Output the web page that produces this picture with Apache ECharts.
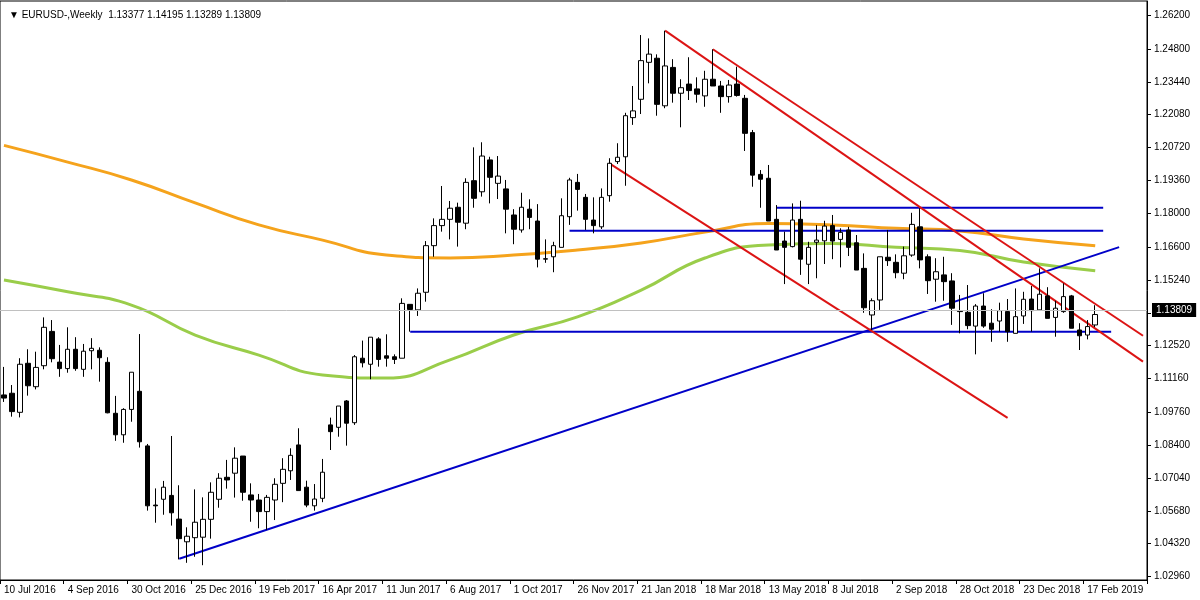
<!DOCTYPE html>
<html><head><meta charset="utf-8">
<script src="https://cdn.jsdelivr.net/npm/echarts@6/dist/echarts.min.js"></script>
<style>html,body{margin:0;padding:0;background:#fff}#c{width:1200px;height:600px}</style>
</head><body><div id="c"></div>
<script>
const opens=[1.1048,1.1055,1.0976,1.1179,1.1082,1.1169,1.1311,1.1184,1.1157,1.1237,1.1154,1.1231,1.1233,1.1183,1.0972,1.0883,1.0988,1.1063,1.0837,1.0592,1.0616,1.0632,1.0534,1.0440,1.0457,1.0459,1.0533,1.0616,1.0707,1.0724,1.0795,1.0634,1.0613,1.0565,1.0613,1.0682,1.0734,1.0841,1.0666,1.0589,1.0620,1.0924,1.0914,1.1023,1.0933,1.1200,1.1175,1.1280,1.1210,1.1206,1.1200,1.1423,1.1400,1.1473,1.1666,1.1749,1.1775,1.1825,1.1759,1.1935,1.1889,1.2021,1.1924,1.1901,1.1793,1.1731,1.1817,1.1768,1.1610,1.1620,1.1659,1.1786,1.1928,1.1866,1.1772,1.1744,1.1873,1.2014,1.2034,1.2196,1.2272,1.2425,1.2442,1.2245,1.2404,1.2297,1.2335,1.2315,1.2286,1.2355,1.2327,1.2283,1.2335,1.2276,1.2134,1.1961,1.1945,1.1775,1.1685,1.1662,1.1775,1.1589,1.1680,1.1686,1.1749,1.1692,1.1731,1.1678,1.1572,1.1379,1.1441,1.1618,1.1597,1.1552,1.1627,1.1744,1.1620,1.1527,1.1545,1.1520,1.1393,1.1390,1.1333,1.1416,1.1345,1.1354,1.1393,1.1303,1.1375,1.1445,1.1400,1.1458,1.1369,1.1393,1.1458,1.1317,1.1296,1.13377];
const closes=[1.1035,1.0979,1.1175,1.1086,1.1162,1.1328,1.1198,1.1157,1.1237,1.1157,1.1229,1.1241,1.1202,1.0974,1.0883,1.0988,1.1142,1.0854,1.0589,1.0589,1.0666,1.0560,1.0453,1.0463,1.0521,1.0533,1.0645,1.0703,1.0696,1.0786,1.0645,1.0613,1.0565,1.0624,1.0678,1.0740,1.0798,1.0652,1.0592,1.0617,1.0728,1.0896,1.1002,1.0931,1.1206,1.1181,1.1287,1.1195,1.1200,1.1195,1.1427,1.1402,1.1469,1.1666,1.1749,1.1775,1.1821,1.1763,1.1928,1.1862,1.2037,1.1949,1.1954,1.1817,1.1734,1.1825,1.1783,1.1610,1.1612,1.1666,1.1790,1.1938,1.1899,1.1775,1.1749,1.1866,1.2007,1.2032,1.2204,1.2224,1.2432,1.2459,1.2251,1.2410,1.2297,1.2320,1.2308,1.2293,1.2355,1.2327,1.2283,1.2331,1.2288,1.2131,1.1958,1.1941,1.1768,1.1648,1.1659,1.1772,1.1610,1.1659,1.1689,1.1747,1.1685,1.1721,1.1659,1.1565,1.1409,1.1438,1.1620,1.1604,1.1554,1.1624,1.1754,1.1607,1.1521,1.1558,1.1517,1.1407,1.1396,1.1335,1.1416,1.1333,1.1320,1.1397,1.1310,1.1372,1.1444,1.1397,1.1465,1.1365,1.1407,1.1455,1.1324,1.1293,1.1331,1.13809];
const highs=[1.1164,1.1089,1.1200,1.1237,1.1227,1.1369,1.1358,1.1255,1.1328,1.1287,1.1259,1.1283,1.1245,1.1204,1.1044,1.0993,1.1142,1.1300,1.0845,1.0661,1.0692,1.0878,1.0674,1.0500,1.0657,1.0624,1.0686,1.0724,1.0779,1.0831,1.0795,1.0682,1.0638,1.0634,1.0703,1.0786,1.0827,1.0910,1.0693,1.0679,1.0783,1.0954,1.1002,1.1027,1.1213,1.1273,1.1287,1.1287,1.1299,1.1216,1.1448,1.1423,1.1489,1.1685,1.1779,1.1913,1.1851,1.1844,1.1945,1.2073,1.2094,1.2034,1.2037,1.1938,1.1817,1.1885,1.1858,1.1838,1.1692,1.1682,1.1862,1.1947,1.1963,1.1880,1.1866,1.1903,1.2028,1.2090,1.2216,1.2327,1.2538,1.2524,1.2458,1.2556,1.2438,1.2355,1.2446,1.2363,1.2390,1.2479,1.2348,1.2352,1.2407,1.2290,1.2145,1.1979,1.2000,1.1834,1.1724,1.1841,1.1852,1.1682,1.1751,1.1769,1.1793,1.1738,1.1744,1.1710,1.1634,1.1448,1.1620,1.1731,1.1630,1.1662,1.1802,1.1821,1.1630,1.1614,1.1620,1.1552,1.1462,1.1503,1.1424,1.1469,1.1403,1.1430,1.1445,1.1489,1.1475,1.1499,1.1572,1.1494,1.1438,1.1510,1.1462,1.1345,1.1358,1.14195];
const lows=[1.1019,1.0958,1.0955,1.1045,1.1071,1.1154,1.1183,1.1123,1.1140,1.1148,1.1123,1.1154,1.1103,1.0972,1.0858,1.0850,1.0937,1.0830,1.0569,1.0519,1.0552,1.0507,1.0367,1.0353,1.0378,1.0343,1.0453,1.0581,1.0660,1.0623,1.0610,1.0523,1.0496,1.0489,1.0530,1.0604,1.0696,1.0652,1.0583,1.0569,1.0604,1.0820,1.0875,1.0838,1.0924,1.1162,1.1113,1.1165,1.1165,1.1176,1.1200,1.1310,1.1375,1.1434,1.1620,1.1724,1.1692,1.1662,1.1734,1.1823,1.1869,1.1841,1.1859,1.1717,1.1672,1.1720,1.1734,1.1576,1.1595,1.1556,1.1659,1.1752,1.1811,1.1731,1.1717,1.1735,1.1848,1.2004,1.1914,1.2166,1.2211,1.2338,1.2204,1.2235,1.2258,1.2156,1.2269,1.2258,1.2241,1.2327,1.2216,1.2258,1.2283,1.2058,1.1910,1.1823,1.1768,1.1648,1.1507,1.1659,1.1545,1.1507,1.1531,1.1590,1.1610,1.1576,1.1623,1.1565,1.1388,1.1317,1.1400,1.1582,1.1531,1.1527,1.1620,1.1572,1.1466,1.1434,1.1438,1.1338,1.1303,1.1320,1.1216,1.1326,1.1268,1.1310,1.1268,1.1303,1.1342,1.1310,1.1397,1.1365,1.1289,1.1388,1.1324,1.1234,1.1278,1.13289];
// moving averages read at every 8th week (week index, value)
const maIdx=[0,8,16,24,32,40,48,56,64,72,80,88,96,104,112,120,128,137];
const maOrange=[1.2081,1.2012,1.1938,1.1843,1.1752,1.1689,1.1627,1.1615,1.1627,1.1648,1.1677,1.1722,1.1758,1.1752,1.1738,1.1727,1.1694,1.1666];
const maGreen=[1.1524,1.1475,1.1420,1.1296,1.1213,1.1131,1.1118,1.1193,1.1296,1.1371,1.1482,1.1615,1.1669,1.1675,1.1659,1.1646,1.1598,1.1562];
const tickLabels=['10 Jul 2016','4 Sep 2016','30 Oct 2016','25 Dec 2016','19 Feb 2017','16 Apr 2017','11 Jun 2017','6 Aug 2017','1 Oct 2017','26 Nov 2017','21 Jan 2018','18 Mar 2018','13 May 2018','8 Jul 2018','2 Sep 2018','28 Oct 2018','23 Dec 2018','17 Feb 2019'];
const priceTicks=[1.02960,1.04320,1.05680,1.07040,1.08400,1.09760,1.11160,1.12520,1.13880,1.15240,1.16600,1.18000,1.19360,1.20720,1.22080,1.23440,1.24800,1.26200];
const lastPrice=1.13809;
// trend lines: [[startWeek, startPrice],[endWeek, endPrice]]
const blueLines=[[[22,1.0370],[140,1.1660]],[[97,1.1823],[138,1.1823]],[[71,1.1728],[138,1.1728]],[[51,1.1310],[139,1.1310]]];
const redLines=[[[83,1.2556],[143,1.1186]],[[89,1.2479],[143,1.1293]],[[76,1.2007],[126,1.0953]]];
const totalWeeks=144;

const FONT='Liberation Sans';
const cats=[];
for(let i=0;i<totalWeeks;i++){cats.push('w'+i);}
const candles=opens.map((o,i)=>[o,closes[i],lows[i],highs[i]]);
const lineSeries=(arr,color,w)=>arr.map(l=>({type:'line',data:l,symbol:'none',lineStyle:{color:color,width:w},silent:true,animation:false,z:3}));
const chart=echarts.init(document.getElementById('c'));
chart.setOption({
  animation:false,
  title:{text:'▼ EURUSD-,Weekly  1.13377 1.14195 1.13289 1.13809',left:4,top:5,textStyle:{fontSize:10,fontWeight:'normal',color:'#000',fontFamily:FONT}},
  grid:{left:0,right:53,top:1,bottom:20,show:true,borderColor:'#000',borderWidth:1,backgroundColor:'#fff'},
  xAxis:{type:'category',data:cats,boundaryGap:true,
    axisLine:{lineStyle:{color:'#000'}},
    axisTick:{show:true,interval:(i)=>i%8===0,length:4,lineStyle:{color:'#000'}},
    axisLabel:{interval:(i)=>i%8===0,formatter:(v,i)=>tickLabels[i/8]||'',align:'left',fontSize:10,color:'#000',fontFamily:FONT,margin:5},
    splitLine:{show:false}},
  yAxis:{type:'value',position:'right',min:1.02818,max:1.26789,scale:true,
    axisLine:{show:true,lineStyle:{color:'#000'}},
    axisTick:{show:true,customValues:priceTicks,length:4,lineStyle:{color:'#000'}},
    axisLabel:{customValues:priceTicks,formatter:v=>v.toFixed(5),fontSize:10,color:'#000',fontFamily:FONT,margin:7},
    splitLine:{show:false}},
  series:[
    {type:'line',data:maIdx.map((x,i)=>[x,maOrange[i]]),smooth:true,symbol:'none',lineStyle:{color:'#f5a31c',width:3},z:2},
    {type:'line',data:maIdx.map((x,i)=>[x,maGreen[i]]),smooth:true,symbol:'none',lineStyle:{color:'#9acd4a',width:3},z:2},
    {type:'candlestick',data:candles,barWidth:5,z:4,
      itemStyle:{color:'#fff',color0:'#000',borderColor:'#000',borderColor0:'#000',borderWidth:1},
      markLine:{symbol:'none',silent:true,
        lineStyle:{color:'#c0c0c0',type:'solid',width:1},
        label:{position:'end',formatter:lastPrice.toFixed(5),backgroundColor:'#000',color:'#fff',fontSize:10,fontFamily:FONT,padding:[2,4],distance:5},
        data:[{yAxis:lastPrice}]}},
    ...lineSeries(blueLines,'#0000c8',2),
    ...lineSeries(redLines,'#dc1414',2)
  ]
});
</script></body></html>
